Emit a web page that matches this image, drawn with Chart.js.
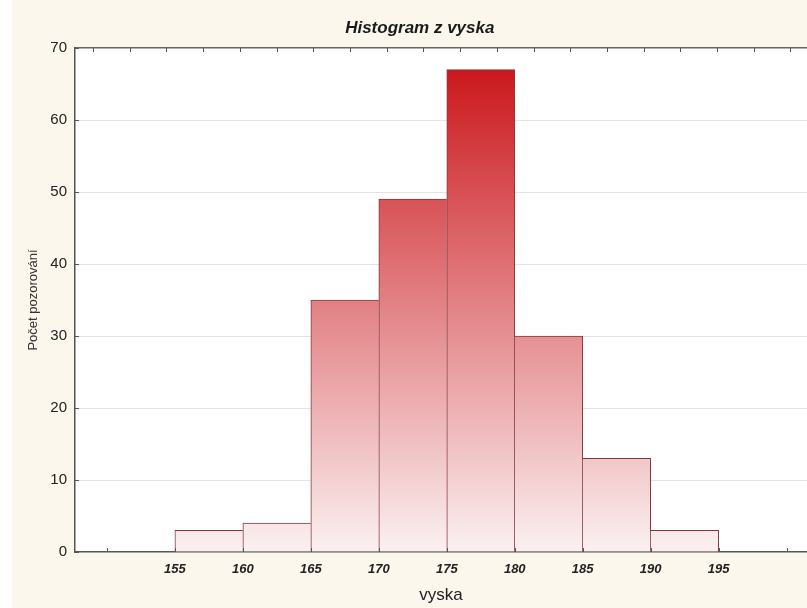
<!DOCTYPE html>
<html>
<head>
<meta charset="utf-8">
<title>Histogram z vyska</title>
<script src="https://cdn.jsdelivr.net/npm/chart.js@4.4.1/dist/chart.umd.min.js"></script>
<style>
  html, body { margin: 0; padding: 0; background: #fff; }
  canvas { display: block; }
</style>
</head>
<body>
<canvas id="hist" width="807" height="608"></canvas>
<script>
// histogram data
const binEdges = [155, 160, 165, 170, 175, 180, 185, 190, 195];
const counts = [3, 4, 35, 49, 67, 30, 13, 3];
const xTickMarks = [150, 155, 160, 165, 170, 175, 180, 185, 190, 195, 200];
const xTickLabels = [155, 160, 165, 170, 175, 180, 185, 190, 195];
const yTicks = [0, 10, 20, 30, 40, 50, 60, 70];
const topTicks = [0, 1, 2, 3, 4, 5, 6, 7, 8, 9, 10, 11, 12, 13, 14, 15, 16, 17, 18, 19];
const chartTitle = 'Histogram z vyska';
const xTitle = 'vyska';
const yTitle = 'Počet pozorování';

const FONT = "'Liberation Sans', Arial, sans-serif";

const centers = counts.map((c, i) => (binEdges[i] + binEdges[i + 1]) / 2);
const points = centers.map((x, i) => ({ x: x, y: counts[i] }));

let grad = null;
function barGradient(ctx, area) {
  if (!grad) {
    grad = ctx.createLinearGradient(0, area.top, 0, area.bottom);
    grad.addColorStop(0, '#c80f14');
    grad.addColorStop(1, '#fbf1f2');
  }
  return grad;
}

// draw one shared line between neighbouring bars, owned by the taller one
function edgeWidths(ctx) {
  const i = ctx.dataIndex;
  const h = counts[i];
  const prev = i > 0 ? counts[i - 1] : -1;
  const next = i < counts.length - 1 ? counts[i + 1] : -1;
  return {
    top: 1,
    bottom: 0,
    left: prev <= h ? 1 : 0,
    right: next < h ? 1 : 0
  };
}

const backdrop = {
  id: 'backdrop',
  beforeDraw(chart) {
    const { ctx, chartArea: a, width, height } = chart;
    ctx.save();
    ctx.fillStyle = '#fcf7ec';
    ctx.fillRect(12, 0, width - 12, height);
    ctx.fillStyle = '#ffffff';
    ctx.fillRect(a.left, a.top, a.right - a.left, a.bottom - a.top);
    ctx.restore();
  },
  afterDraw(chart) {
    const { ctx, chartArea: a, scales } = chart;
    ctx.save();
    // inner tick marks
    ctx.strokeStyle = '#555';
    ctx.lineWidth = 1;
    ctx.beginPath();
    scales.x.ticks.forEach(t => {
      const px = Math.round(scales.x.getPixelForValue(t.value)) + 0.5;
      ctx.moveTo(px, a.bottom);
      ctx.lineTo(px, a.bottom - 4);
    });
    scales.x2.ticks.forEach(t => {
      const px = Math.round(scales.x2.getPixelForValue(t.value)) + 0.5;
      ctx.moveTo(px, a.top);
      ctx.lineTo(px, a.top + 4);
    });
    scales.y.ticks.forEach(t => {
      const py = Math.round(scales.y.getPixelForValue(t.value)) + 0.5;
      ctx.moveTo(a.left, py);
      ctx.lineTo(a.left + 4, py);
    });
    ctx.stroke();
    // title
    ctx.fillStyle = '#1a1a1a';
    ctx.font = 'italic bold 17px ' + FONT;
    ctx.textAlign = 'center';
    ctx.textBaseline = 'middle';
    ctx.fillText(chartTitle, a.left + (a.right - a.left) * 0.471, 28);
    ctx.restore();
  }
};

new Chart(document.getElementById('hist'), {
  type: 'bar',
  data: {
    datasets: [{
      data: points,
      backgroundColor: (ctx) => {
        const area = ctx.chart.chartArea;
        if (!area) return '#e08080';
        return barGradient(ctx.chart.ctx, area);
      },
      borderColor: '#86383c',
      borderWidth: edgeWidths,
      borderSkipped: false,
      barPercentage: 1,
      categoryPercentage: 1,
      grouped: false
    }]
  },
  options: {
    responsive: false,
    animation: false,
    layout: { padding: 0 },
    plugins: {
      legend: { display: false },
      tooltip: { enabled: false },
      title: { display: false }
    },
    scales: {
      x: {
        type: 'linear',
        position: 'bottom',
        min: 147.65,
        max: 201.5,
        offset: false,
        afterBuildTicks: (s) => { s.ticks = xTickMarks.map(v => ({ value: v })); },
        afterFit: (s) => { s.height = 56; },
        grid: { display: false, offset: false, drawTicks: false },
        border: { display: true, color: '#555', width: 1.5 },
        ticks: {
          padding: 10,
          color: '#222',
          font: { family: FONT, size: 13, style: 'italic', weight: 'bold' },
          callback: (v) => xTickLabels.includes(v) ? String(v) : ''
        },
        title: {
          display: true,
          text: xTitle,
          color: '#222',
          padding: { top: 0, bottom: 2 },
          font: { family: FONT, size: 17 }
        }
      },
      x2: {
        type: 'linear',
        position: 'top',
        min: -0.49,
        max: 19.45,
        offset: false,
        bounds: 'data',
        afterBuildTicks: (s) => { s.ticks = topTicks.map(v => ({ value: v })); },
        afterFit: (s) => { s.height = 48; },
        grid: { display: true, offset: false, drawOnChartArea: false, drawTicks: false },
        border: { display: true, color: '#666', width: 1.5 },
        ticks: { display: false }
      },
      y: {
        min: 0,
        max: 70,
        afterBuildTicks: (s) => { s.ticks = yTicks.map(v => ({ value: v })); },
        afterFit: (s) => { s.width = 75; },
        grid: {
          drawTicks: false,
          color: (c) => (c.tick && (c.tick.value === 0 || c.tick.value === 70)) ? 'rgba(0,0,0,0)' : '#e4e4e4',
          lineWidth: 1
        },
        border: { display: true, color: '#555', width: 1.5 },
        ticks: {
          padding: 8,
          color: '#222',
          font: { family: FONT, size: 15 }
        },
        title: {
          display: true,
          text: yTitle,
          color: '#333',
          padding: { top: 26, bottom: 0 },
          font: { family: FONT, size: 13 }
        }
      }
    }
  },
  plugins: [backdrop]
});
</script>
</body>
</html>
